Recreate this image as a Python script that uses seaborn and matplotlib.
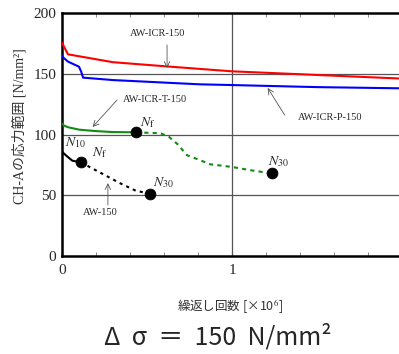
import matplotlib
matplotlib.use("Agg")
import matplotlib.pyplot as plt
import pandas as pd
import seaborn as sns

# 読み取った曲線データ (x: 繰返し回数 ×10^6, y: 応力範囲 N/mm2)
red_x = [0, 0.035, 0.3, 0.62, 1.0, 1.5, 2.0]
red_y = [175.5, 166, 159.5, 156, 152, 149, 146]

blue_x = [0, 0.01, 0.035, 0.1, 0.112, 0.124, 0.3, 0.81, 1.0, 1.5, 2.0]
blue_y = [165, 163, 160, 155.8, 152, 146.8, 144.8, 141.3, 140.7, 139, 138]

green_x = [0, 0.01, 0.035, 0.1, 0.2, 0.3, 0.435]
green_y = [109, 107.5, 106, 104, 102.8, 102, 101.8]
green_dash_x = [0.435, 0.58, 0.63, 0.68, 0.735, 0.81, 0.87, 1.0, 1.1, 1.233]
green_dash_y = [101.8, 101, 98, 92, 83, 79, 75.5, 73.3, 70.8, 68]

black_x = [0, 0.01, 0.03, 0.06, 0.112]
black_y = [86, 84.5, 82, 78.5, 77]
black_dash_x = [0.112, 0.22, 0.34, 0.43, 0.52]
black_dash_y = [77, 69, 60, 54, 51]

pts_x = [0.435, 1.233, 0.112, 0.52]
pts_y = [101.8, 68, 77, 51]

SERIF = ["Liberation Serif", "Noto Sans CJK JP"]
CJK = ["Noto Sans CJK JP", "DejaVu Sans"]

sns.set_style("ticks")
plt.rcParams["font.family"] = SERIF
plt.rcParams["mathtext.fontset"] = "stix"

fig = plt.figure(figsize=(3.99, 3.54), dpi=100)
ax = fig.add_axes([62 / 399, 98 / 354, 340 / 399, 243 / 354])

for v in [50, 100, 150]:
    ax.axhline(v, color="#555555", lw=0.9, zorder=1)
ax.axvline(1, color="#555555", lw=0.9, zorder=1)

def curve(x, y, color, dashes=None):
    d = pd.DataFrame({"x": x, "y": y})
    sns.lineplot(data=d, x="x", y="y", sort=False, color=color, lw=1.5, ax=ax, zorder=3)
    if dashes:
        ax.lines[-1].set_dashes(dashes)

curve(red_x, red_y, "#ff0000")
curve(blue_x, blue_y, "#0000ff")
curve(green_x, green_y, "#138a13")
curve(green_dash_x, green_dash_y, "#138a13", dashes=(2.0, 2.0))
curve(black_x, black_y, "black")
curve(black_dash_x, black_dash_y, "black", dashes=(1.5, 2.0))

sns.scatterplot(x=pts_x, y=pts_y, color="black", s=60, edgecolor="black", zorder=5, ax=ax)

ax.set_xlim(0, 2)
ax.set_ylim(0, 200)
ax.set_xticks([0, 1, 2])
ax.set_xticks([0.2, 0.4, 0.6, 0.8, 1.2, 1.4, 1.6, 1.8], minor=True)
ax.set_yticks([0, 50, 100, 150, 200])
ax.tick_params(axis="x", which="both", direction="in", top=True, length=3, color="#777777",
               labelsize=11, pad=6)
ax.tick_params(axis="y", length=0, labelsize=11, pad=4)
for s in ["left", "bottom", "top"]:
    ax.spines[s].set_linewidth(1.8)
    ax.spines[s].set_color("black")
ax.spines["right"].set_visible(False)

ax.set_xlabel("繰返し回数 [×10$^{6}$]", family=CJK, fontsize=9, color="#333333")
ax.set_ylabel("CH-Aの応力範囲 [N/mm²]", family=SERIF, fontsize=10, color="#333333")
ax.xaxis.set_label_coords(0.494, -0.169)
ax.yaxis.set_label_coords(-0.105, 0.535)

arrow = dict(arrowstyle="->", color="#555555", lw=0.6, shrinkA=0, shrinkB=0)
fs = 7.5
ax.annotate("", xy=(0.618, 154.7), xytext=(0.618, 173.7), arrowprops=arrow)
ax.text(0.4, 183.5, "AW-ICR-150", fontsize=fs, va="center")
ax.annotate("", xy=(1.21, 138.3), xytext=(1.31, 116), arrowprops=arrow)
ax.text(1.388, 114.4, "AW-ICR-P-150", fontsize=fs, va="center")
ax.annotate("", xy=(0.18, 106.2), xytext=(0.324, 128.4), arrowprops=arrow)
ax.text(0.36, 128.4, "AW-ICR-T-150", fontsize=fs, va="center")
ax.annotate("", xy=(0.27, 60), xytext=(0.27, 42), arrowprops=arrow)
ax.text(0.124, 35.4, "AW-150", fontsize=fs, va="center")

nfs = 10
ax.text(0.46, 110, "$N_{\\mathrm{f}}$", fontsize=nfs, va="center")
ax.text(0.176, 84.8, "$N_{\\mathrm{f}}$", fontsize=nfs, va="center")
ax.text(0.018, 93, "$N_{10}$", fontsize=nfs, va="center")
ax.text(1.21, 77.4, "$N_{30}$", fontsize=nfs, va="center")
ax.text(0.535, 60, "$N_{30}$", fontsize=nfs, va="center")

fig.text(218 / 399, 1 - 337 / 354, "Δ  σ  ＝  150  N/mm²", family=CJK, fontsize=18,
         ha="center", va="center")

fig.savefig("out.png", dpi=100)
